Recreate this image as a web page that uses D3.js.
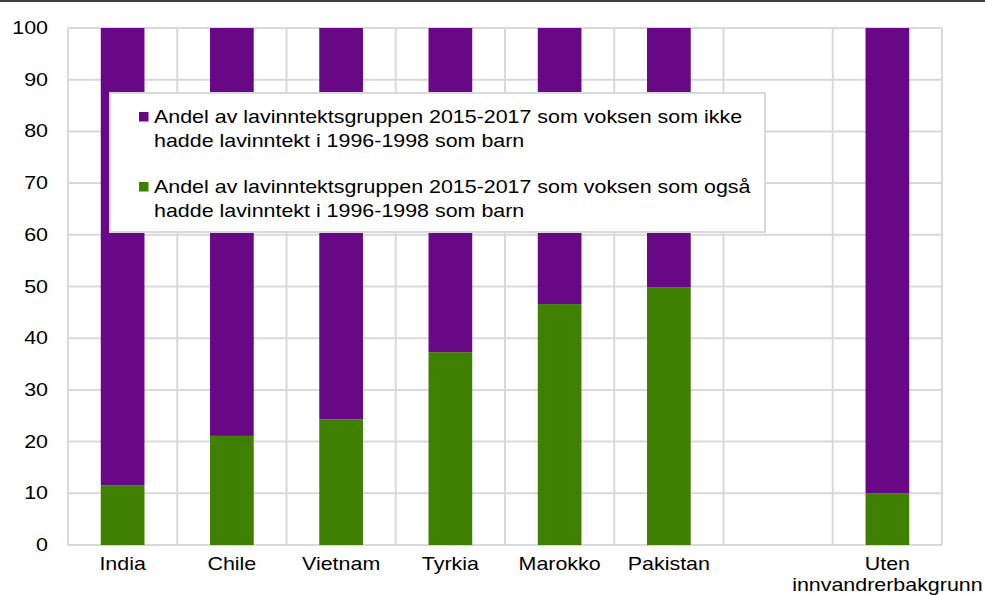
<!DOCTYPE html>
<html>
<head>
<meta charset="utf-8">
<script src="https://cdn.jsdelivr.net/npm/d3@7"></script>
<style>
  html, body { margin: 0; padding: 0; background: #fff; }
  svg { display: block; }
  text { font-family: "Liberation Sans", Arial, sans-serif; fill: #000; }
</style>
</head>
<body>
<svg id="chart" width="985" height="595"></svg>
<script>
// Groups along the x axis (one empty slot separates the comparison group)
const categories = ["India", "Chile", "Vietnam", "Tyrkia", "Marokko", "Pakistan", "", "Uten\ninnvandrerbakgrunn"];
// Share who also had low income as children (green, bottom)
const alsoLowIncome = [11.5, 21.1, 24.3, 37.3, 46.6, 49.8, null, 10.0];
// Share who did not have low income as children (purple, top)
const notLowIncome = [88.5, 78.9, 75.7, 62.7, 53.4, 50.2, null, 90.0];
const yTicks = [0, 10, 20, 30, 40, 50, 60, 70, 80, 90, 100];
const seriesNames = [
  ["Andel av lavinntektsgruppen 2015-2017 som voksen som ikke", "hadde lavinntekt i 1996-1998 som barn"],
  ["Andel av lavinntektsgruppen 2015-2017 som voksen som også", "hadde lavinntekt i 1996-1998 som barn"]
];
const colors = ["#690887", "#3f8001"];

const svg = d3.select("#chart");
const margin = { left: 68, right: 43, top: 28, bottom: 50 };
const W = 985, H = 595;
const fontSize = 17.5, sx = 1.225; // glyphs are drawn slightly wide

const x = d3.scaleBand()
  .domain(d3.range(categories.length))
  .range([margin.left, W - margin.right])
  .paddingInner(0.6)
  .paddingOuter(0.3);
const y = d3.scaleLinear().domain([0, 100]).range([H - margin.bottom, margin.top]);

// helper: horizontally widened text
function wideText(g, tx, ty, str, anchor) {
  return g.append("text")
    .attr("transform", `translate(${tx},${ty}) scale(${sx},1)`)
    .attr("text-anchor", anchor)
    .style("font-size", fontSize + "px")
    .text(str);
}

// rule across the top
svg.append("line").attr("x1", 0).attr("x2", W).attr("y1", 1).attr("y2", 1)
  .attr("stroke", "#000").attr("stroke-width", 1.5);

// grid
const grid = svg.append("g").attr("stroke", "#d9d9d9").attr("stroke-width", 2);
grid.selectAll("line.h").data(yTicks).join("line")
  .attr("x1", margin.left).attr("x2", W - margin.right)
  .attr("y1", d => y(d)).attr("y2", d => y(d));
const step = x.step();
const edges = d3.range(categories.length + 1).map(i => margin.left + i * step);
grid.selectAll("line.v").data(edges).join("line")
  .attr("x1", d => d).attr("x2", d => d)
  .attr("y1", y(100)).attr("y2", y(0));

// stacked bars
const rows = categories.map((c, i) => ({ i, low: alsoLowIncome[i], not: notLowIncome[i] }))
  .filter(r => r.low != null);
const bars = svg.append("g");
bars.selectAll("rect.low").data(rows).join("rect")
  .attr("x", d => x(d.i)).attr("width", x.bandwidth())
  .attr("y", d => y(d.low)).attr("height", d => y(0) - y(d.low))
  .attr("fill", colors[1]);
bars.selectAll("rect.not").data(rows).join("rect")
  .attr("x", d => x(d.i)).attr("width", x.bandwidth())
  .attr("y", d => y(d.low + d.not)).attr("height", d => y(d.low) - y(d.low + d.not))
  .attr("fill", colors[0]);

// y axis labels
const yAxis = svg.append("g");
yTicks.forEach(t => wideText(yAxis, 48, y(t) + 6, String(t), "end"));

// x axis labels
const xAxis = svg.append("g");
categories.forEach((c, i) => {
  if (!c) return;
  c.split("\n").forEach((line, k) => {
    wideText(xAxis, x(i) + x.bandwidth() / 2, 570 + k * 21, line, "middle");
  });
});

// legend
const lg = svg.append("g");
lg.append("rect").attr("x", 110).attr("y", 93).attr("width", 655).attr("height", 139)
  .attr("fill", "#fff").attr("stroke", "#d9d9d9").attr("stroke-width", 2);
seriesNames.forEach((lines, k) => {
  const by = 123 + k * 70;
  lg.append("rect").attr("x", 139).attr("y", by - 11).attr("width", 9.5).attr("height", 9.5)
    .attr("fill", colors[k]);
  lines.forEach((ln, j) => wideText(lg, 154, by + j * 24, ln, "start"));
});
</script>
</body>
</html>
